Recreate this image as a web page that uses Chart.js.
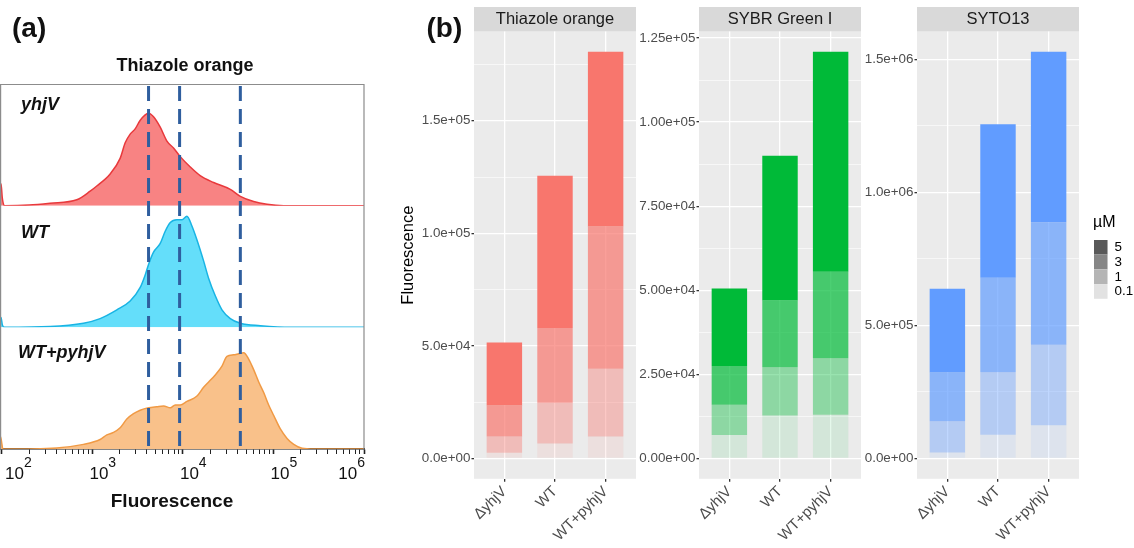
<!DOCTYPE html>
<html>
<head>
<meta charset="utf-8">
<script src="https://cdn.jsdelivr.net/npm/chart.js@4.4.1/dist/chart.umd.min.js"></script>
<style>
  body { margin: 0; background: #fff; width: 1134px; height: 548px; overflow: hidden; position: relative; }
  canvas { position: absolute; top: 0; }
</style>
</head>
<body>
<canvas id="histA" width="380" height="548" style="left:0px"></canvas>
<canvas id="facetTO" width="245" height="548" style="left:395px"></canvas>
<canvas id="facetSG" width="232" height="548" style="left:634px"></canvas>
<canvas id="facetS13" width="272" height="548" style="left:862px"></canvas>
<script>
// ---- panel (a): histograms, x in log10(fluorescence), y = fraction of row height
const histDecades = [2, 3, 4, 5, 6]
const gateLog = [3.62, 3.963, 4.634]
const rowLabels = ['yhjV', 'WT', 'WT+pyhjV']

const yhjvLog = [1.979, 1.99, 2.005, 2.03, 2.3, 2.532, 2.827, 2.975, 3.048, 3.196, 3.306, 3.362, 3.417, 3.472, 3.528,
  3.62, 3.675, 3.749, 3.823, 3.896, 3.97, 4.081, 4.19, 4.339, 4.523, 4.634, 4.781, 4.929, 5.113, 6.0]
const yhjvDensity = [0.16, 0.18, 0.06, 0, 0.005, 0.02, 0.048, 0.119, 0.162, 0.261, 0.389, 0.517, 0.588, 0.631, 0.702,
  0.759, 0.73, 0.645, 0.531, 0.474, 0.403, 0.318, 0.247, 0.19, 0.134, 0.077, 0.034, 0.011, 0, 0]

const wtLog = [1.979, 1.99, 2.005, 2.03, 2.532, 2.901, 3.085, 3.27, 3.417, 3.528, 3.583, 3.62, 3.675, 3.749, 3.804,
  3.86, 3.933, 3.989, 4.044, 4.099, 4.155, 4.228, 4.284, 4.357, 4.431, 4.523, 4.634, 4.855, 5.187, 6.0]
const wtDensity = [0.07, 0.08, 0.02, 0, 0.006, 0.034, 0.072, 0.144, 0.216, 0.328, 0.431, 0.517, 0.618, 0.69, 0.79,
  0.862, 0.885, 0.885, 0.914, 0.833, 0.718, 0.546, 0.402, 0.259, 0.144, 0.072, 0.034, 0.014, 0, 0]

const pyhjvLog = [1.979, 1.985, 2.0, 2.01, 2.606, 2.901, 3.085, 3.159, 3.233, 3.306, 3.38, 3.454, 3.528, 3.62, 3.712,
  3.786, 3.86, 3.915, 3.97, 4.044, 4.155, 4.228, 4.284, 4.357, 4.431, 4.486, 4.56, 4.616, 4.671, 4.726, 4.781,
  4.837, 4.892, 4.947, 5.003, 5.076, 5.15, 5.224, 5.316, 5.445, 6.0]
const pyhjvDensity = [0.09, 0.1, 0.04, 0, 0.009, 0.038, 0.078, 0.116, 0.136, 0.174, 0.246, 0.29, 0.319, 0.339, 0.348,
  0.354, 0.339, 0.362, 0.362, 0.391, 0.435, 0.507, 0.551, 0.609, 0.681, 0.762, 0.774, 0.783, 0.791, 0.739, 0.652,
  0.551, 0.464, 0.362, 0.275, 0.165, 0.087, 0.038, 0.006, 0, 0]

// ---- panel (b): bar segments, stacked bottom (0.1 uM) to top (5 uM)
const categories = ['\u0394yhjV', 'WT', 'WT+pyhjV']
const concentrations = ['0.1', '1', '3', '5']

const thiazole01 = [2500, 6700, 9800]
const thiazole1 = [7300, 18000, 30000]
const thiazole3 = [13700, 33300, 63200]
const thiazole5 = [28000, 67600, 77600]

const sybr01 = [7000, 12800, 13000]
const sybr1 = [9000, 14300, 16800]
const sybr3 = [11500, 19900, 25700]
const sybr5 = [23000, 43000, 65400]

const syto01 = [22000, 89000, 125000]
const syto1 = [118000, 235000, 302000]
const syto3 = [183000, 355000, 461000]
const syto5 = [315000, 577000, 640000]

const thiazoleTicks = [0, 50000, 100000, 150000]
const thiazoleTickLabels = ['0.0e+00', '5.0e+04', '1.0e+05', '1.5e+05']
const sybrTicks = [0, 25000, 50000, 75000, 100000, 125000]
const sybrTickLabels = ['0.00e+00', '2.50e+04', '5.00e+04', '7.50e+04', '1.00e+05', '1.25e+05']
const sytoTicks = [0, 500000, 1000000, 1500000]
const sytoTickLabels = ['0.0e+00', '5.0e+05', '1.0e+06', '1.5e+06']

// ---------------------------------------------------------------
const FONT = '"Liberation Sans", Arial, sans-serif'
const concAlpha = [0.1, 0.4, 0.7, 1]

function toPoints(logs, dens) {
  return logs.map((l, i) => ({x: Math.pow(10, l), y: dens[i]}))
}

function rowAxis() {
  return {
    type: 'linear', stack: 'rows', stackWeight: 1, position: 'left', min: 0, max: 1,
    ticks: {display: false}, grid: {display: false}, border: {display: false},
    afterFit(s) { s.width = 0 }
  }
}

const histDecor = {
  id: 'histDecor',
  afterDatasetsDraw(chart) {
    const {ctx, chartArea: a, scales: {x}} = chart
    ctx.save()
    ctx.strokeStyle = '#2F5E9E'
    ctx.lineWidth = 3
    ctx.setLineDash([15, 8])
    gateLog.forEach(g => {
      const px = x.getPixelForValue(Math.pow(10, g))
      ctx.beginPath()
      ctx.moveTo(px, a.top + 2)
      ctx.lineTo(px, a.bottom)
      ctx.stroke()
    })
    ctx.restore()
  },
  afterDraw(chart) {
    const {ctx, chartArea: a, scales: {x}} = chart
    ctx.save()
    // frame
    ctx.strokeStyle = '#8c8c8c'
    ctx.lineWidth = 1.2
    ctx.beginPath()
    ctx.moveTo(a.left + 0.6, a.bottom)
    ctx.lineTo(a.left + 0.6, a.top + 0.5)
    ctx.lineTo(a.right, a.top + 0.5)
    ctx.lineTo(a.right, a.bottom)
    ctx.stroke()

    ctx.fillStyle = '#111'
    ctx.textBaseline = 'alphabetic'
    ctx.font = 'bold 28px ' + FONT
    ctx.fillText('(a)', 12, 37)
    ctx.font = 'bold 18px ' + FONT
    ctx.textAlign = 'center'
    ctx.fillText('Thiazole orange', 185, 71)
    ctx.font = 'bold 19px ' + FONT
    ctx.fillText('Fluorescence', 172, 507)

    ctx.textAlign = 'left'
    ctx.font = 'italic bold 18px ' + FONT
    const rowBase = [110, 238, 358]
    rowLabels.forEach((t, i) => ctx.fillText(t, i === 2 ? 18 : 21, rowBase[i]))

    // decade labels 10^n
    histDecades.forEach(d => {
      const px = x.getPixelForValue(Math.pow(10, d))
      ctx.font = '17px ' + FONT
      const w10 = ctx.measureText('10').width
      ctx.font = '14px ' + FONT
      const we = ctx.measureText(String(d)).width
      const left = Math.min(Math.max(px - 3, 5), a.right - w10 - we + 1)
      ctx.font = '17px ' + FONT
      ctx.fillText('10', left, 479)
      ctx.font = '14px ' + FONT
      ctx.fillText(String(d), left + w10, 467)
    })
    ctx.restore()
  }
}

new Chart(document.getElementById('histA'), {
  type: 'line',
  data: {
    datasets: [
      {data: toPoints(yhjvLog, yhjvDensity), yAxisID: 'yTop', borderColor: '#E8393C', backgroundColor: '#F88383'},
      {data: toPoints(wtLog, wtDensity), yAxisID: 'yMid', borderColor: '#19B4E4', backgroundColor: '#64DEFA'},
      {data: toPoints(pyhjvLog, pyhjvDensity), yAxisID: 'yBot', borderColor: '#F09A45', backgroundColor: '#F9C18A'}
    ].map(d => Object.assign(d, {fill: 'origin', pointRadius: 0, borderWidth: 1.5, cubicInterpolationMode: 'monotone'}))
  },
  options: {
    responsive: false, animation: false, devicePixelRatio: 1,
    layout: {padding: {left: 0, right: 16, top: 84, bottom: 0}},
    plugins: {legend: {display: false}, tooltip: {enabled: false}},
    scales: {
      x: {
        type: 'logarithmic', min: Math.pow(10, 1.979), max: 1e6,
        afterBuildTicks(s) {
          const t = []
          histDecades.slice(0, -1).forEach(d => {
            for (let m = 1; m < 10; m++) t.push({value: m * Math.pow(10, d), major: m === 1})
          })
          t.push({value: 1e6, major: true})
          s.ticks = t
        },
        afterFit(s) { s.height = 99; s.paddingLeft = 0; s.paddingRight = 0 },
        ticks: {display: false},
        grid: {drawOnChartArea: false, drawTicks: true, tickLength: 5, tickColor: '#222',
          tickWidth: c => (c.tick && c.tick.major) ? 1.6 : 1},
        border: {display: true, color: '#111', width: 1.5}
      },
      // stacked left axes: the last one listed ends up on top
      yBot: rowAxis(),
      yMid: rowAxis(),
      yTop: rowAxis()
    }
  },
  plugins: [histDecor]
})

// ---------------------------------------------------------------
function facetChart(id, stripText, rgb, values, majors, majorLabels, yWidth, padRight, extra) {
  const totals = categories.map((c, i) => values.reduce((s, v) => s + v[i], 0))
  const top = Math.max(...totals)
  const step = majors[1] - majors[0]
  const minors = majors.map(v => v + step / 2).filter(v => v < top * 1.05)

  const facetDecor = {
    id: 'facetDecor',
    beforeDraw(chart) {
      const {ctx, chartArea: a} = chart
      ctx.save()
      ctx.fillStyle = '#EBEBEB'
      ctx.fillRect(a.left, a.top, a.right - a.left, a.bottom - a.top)
      ctx.fillStyle = '#D9D9D9'
      ctx.fillRect(a.left, 7, a.right - a.left, a.top - 7)
      ctx.fillStyle = '#1A1A1A'
      ctx.font = '16.5px ' + FONT
      ctx.textAlign = 'center'
      ctx.fillText(stripText, (a.left + a.right) / 2, 24)
      ctx.restore()
      if (extra) extra(chart)
    }
  }

  return new Chart(document.getElementById(id), {
    type: 'bar',
    data: {
      datasets: values.map((v, k) => ({
        label: concentrations[k],
        data: v.map((y, i) => ({x: i + 1, y: y})),
        backgroundColor: 'rgba(' + rgb + ',' + concAlpha[k] + ')',
        borderWidth: 0, barPercentage: 0.7, categoryPercentage: 1
      }))
    },
    options: {
      responsive: false, animation: false, devicePixelRatio: 1,
      layout: {padding: {left: 0, right: padRight, top: 31.5, bottom: 0}},
      plugins: {legend: {display: false}, tooltip: {enabled: false}},
      scales: {
        x: {
          type: 'linear', stacked: true, min: 0.4, max: 3.6, offset: false,
          afterBuildTicks(s) { s.ticks = categories.map((c, i) => ({value: i + 1})) },
          afterFit(s) { s.height = 548 - 478.8; s.paddingLeft = 0; s.paddingRight = 0 },
          ticks: {callback: v => categories[Math.round(v) - 1], minRotation: 45, maxRotation: 45, autoSkip: false,
            color: '#4D4D4D', font: {family: FONT, size: 15}, padding: 1},
          grid: {offset: false, color: '#FFFFFF', lineWidth: 1.3, tickLength: 3, tickColor: '#333'},
          border: {display: false}
        },
        y: {
          type: 'linear', stacked: true, min: -0.05 * top, max: 1.05 * top,
          afterBuildTicks(s) {
            s.ticks = majors.map(v => ({value: v})).concat(minors.map(v => ({value: v, isMinor: true})))
              .sort((p, q) => p.value - q.value)
          },
          afterFit(s) { s.width = yWidth },
          ticks: {
            callback: (v, i, t) => t[i].isMinor ? '' : majorLabels[majors.indexOf(v)],
            autoSkip: false, color: '#4D4D4D', font: {family: FONT, size: 13.4}, padding: 1
          },
          grid: {
            color: '#FFFFFF',
            lineWidth: c => (c.tick && c.tick.isMinor) ? 0.6 : 1.3,
            tickLength: 2.5,
            tickColor: c => (c.tick && c.tick.isMinor) ? 'rgba(0,0,0,0)' : '#333'
          },
          border: {display: false},
          title: {display: id === 'facetTO', text: 'Fluorescence', color: '#000',
            font: {family: FONT, size: 16.5}, padding: {top: 4, bottom: 0}}
        }
      }
    },
    plugins: [facetDecor]
  })
}

facetChart('facetTO', 'Thiazole orange', '248,118,109',
  [thiazole01, thiazole1, thiazole3, thiazole5], thiazoleTicks, thiazoleTickLabels, 79, 4,
  chart => {
    const ctx = chart.ctx
    ctx.save()
    ctx.fillStyle = '#111'
    ctx.font = 'bold 28px ' + FONT
    ctx.fillText('(b)', 426.5 - 395, 37)
    ctx.restore()
  })

facetChart('facetSG', 'SYBR Green I', '0,186,56',
  [sybr01, sybr1, sybr3, sybr5], sybrTicks, sybrTickLabels, 65, 5)

facetChart('facetS13', 'SYTO13', '97,156,255',
  [syto01, syto1, syto3, syto5], sytoTicks, sytoTickLabels, 55, 55,
  chart => {
    const ctx = chart.ctx
    const x0 = 1094 - 862
    ctx.save()
    ctx.fillStyle = '#000'
    ctx.font = '16px ' + FONT
    ctx.fillText('\u00B5M', 1093 - 862, 226.5)
    ctx.font = '13.4px ' + FONT
    ctx.textBaseline = 'middle'
    const order = concentrations.slice().reverse()
    order.forEach((c, i) => {
      const k = concentrations.indexOf(c)
      const y = 240 + i * 14.7
      ctx.fillStyle = '#F2F2F2'
      ctx.fillRect(x0, y, 13.5, 14.7)
      ctx.fillStyle = 'rgba(89,89,89,' + concAlpha[k] + ')'
      ctx.fillRect(x0, y, 13.5, 14.7)
      ctx.fillStyle = '#000'
      ctx.fillText(c, x0 + 20.5, y + 7.5)
    })
    ctx.restore()
  })
</script>
</body>
</html>
